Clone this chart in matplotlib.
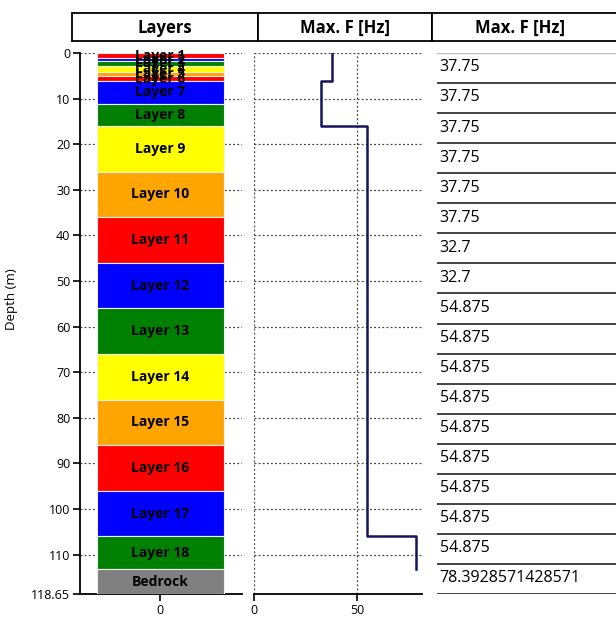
import numpy as np
import matplotlib
matplotlib.use("Agg")
import matplotlib.pyplot as plt
from matplotlib.patches import Rectangle

# ---- data ----
layer_names = ["Layer 1", "Layer 2", "Layer 3", "Layer 4", "Layer 5", "Layer 6",
               "Layer 7", "Layer 8", "Layer 9", "Layer 10", "Layer 11", "Layer 12",
               "Layer 13", "Layer 14", "Layer 15", "Layer 16", "Layer 17", "Layer 18",
               "Bedrock"]
thickness = [1.1, 0.7, 1.0, 1.4, 0.9, 1.0,
             5.1, 4.8, 10.0, 10.0, 10.0, 10.0,
             10.0, 10.0, 10.0, 10.0, 10.0, 7.2,
             5.45]
max_f = [37.75, 37.75, 37.75, 37.75, 37.75, 37.75,
         32.7, 32.7, 54.875, 54.875, 54.875, 54.875,
         54.875, 54.875, 54.875, 54.875, 54.875, 78.3928571428571]
cycle_colors = ["#ff0000", "#0000ff", "#008000", "#ffff00", "#ffa500"]
bedrock_color = "#808080"
depth_ticks = [0, 10, 20, 30, 40, 50, 60, 70, 80, 90, 100, 110, 118.65]
depth_tick_labels = ["0", "10", "20", "30", "40", "50", "60", "70", "80", "90",
                     "100", "110", "118.65"]
freq_ticks = [0, 50]
headers = ["Layers", "Max. F [Hz]", "Max. F [Hz]"]

bounds = np.concatenate([[0.0], np.cumsum(thickness)])
total_depth = bounds[-1]

W, H = 616, 621
fig = plt.figure(figsize=(W / 100, H / 100), dpi=100)
fig.patch.set_facecolor("white")


def fx(px):
    return px / W


def fy(py):
    return 1 - py / H


FONT = "Open Sans"
grid_kw = dict(color="#444444", linestyle=(0, (1.5, 1.8)), linewidth=0.9)

# ---- header row ----
hdr = fig.add_axes([0, 0, 1, 1], zorder=0)
hdr.set_axis_off()
hdr.set_xlim(0, W)
hdr.set_ylim(H, 0)
hdr_top, hdr_bot = 13, 41
cells = [(72, 258), (258, 432), (432, 640)]
for (x0, x1), txt in zip(cells, headers):
    hdr.add_patch(Rectangle((x0, hdr_top), x1 - x0, hdr_bot - hdr_top,
                            facecolor="white", edgecolor="black", linewidth=1.3,
                            clip_on=False))
    cx = (x0 + x1) / 2 if x1 < 616 else (x0 + 616) / 2 - 4
    hdr.text(cx, (hdr_top + hdr_bot) / 2 + 1, txt, ha="center", va="center",
             fontsize=12, fontweight="bold", family=FONT)

# ---- layer column ----
ax1 = fig.add_axes([fx(80), fy(594), fx(242) - fx(80), fy(53) - fy(594)], zorder=2)
ax1.set_facecolor("none")
for i, name in enumerate(layer_names):
    top, bot = bounds[i], bounds[i + 1]
    col = bedrock_color if name == "Bedrock" else cycle_colors[i % 5]
    ax1.bar(0, bot - top, bottom=top, width=1.0, color=col,
            edgecolor="#eeeeee", linewidth=0.8, zorder=3)
    ax1.text(0, (top + bot) / 2, name, ha="center", va="center", fontsize=10,
             fontweight="bold", family=FONT, color="black", zorder=4)
ax1.set_xlim(-0.63, 0.645)
ax1.set_ylim(total_depth, 0)
ax1.set_yticks(depth_ticks)
ax1.set_yticklabels(depth_tick_labels)
ax1.set_xticks([0])
ax1.set_xticklabels(["0"])
ax1.grid(axis="y", zorder=1, **grid_kw)
ax1.set_axisbelow(True)
for s in ["top", "right"]:
    ax1.spines[s].set_visible(False)
for s in ["left", "bottom"]:
    ax1.spines[s].set_linewidth(1.3)
ax1.tick_params(axis="both", length=5, width=1.2, labelsize=9, pad=2)
for lbl in ax1.get_xticklabels() + ax1.get_yticklabels():
    lbl.set_family(FONT)
ax1.set_ylabel("Depth (m)", fontsize=9.5, family=FONT)
ax1.yaxis.set_label_coords(-0.385, 0.545)

# ---- maximum frequency profile ----
ax2 = fig.add_axes([fx(254), fy(594), fx(422) - fx(254), fy(53) - fy(594)], zorder=2)
ax2.set_facecolor("none")
prof_f, prof_d = [], []
for i, f in enumerate(max_f):
    prof_f += [f, f]
    prof_d += [bounds[i], bounds[i + 1]]
ax2.plot(prof_f, prof_d, color="#15155e", linewidth=1.8, zorder=3)
ax2.set_xlim(0, 81.5)
ax2.set_ylim(total_depth, 0)
ax2.set_yticks(depth_ticks[:-1])
ax2.set_yticklabels([])
ax2.set_xticks(freq_ticks)
ax2.set_xticklabels([str(t) for t in freq_ticks])
ax2.grid(True, zorder=1, **grid_kw)
for s in ["top", "right", "left"]:
    ax2.spines[s].set_visible(False)
ax2.spines["bottom"].set_linewidth(1.3)
ax2.tick_params(axis="y", length=0)
ax2.tick_params(axis="x", length=5, width=1.2, labelsize=9, pad=2)
for lbl in ax2.get_xticklabels():
    lbl.set_family(FONT)

# ---- value table ----
ax3 = fig.add_axes([fx(437), fy(594), 1 - fx(437), fy(53) - fy(594)], zorder=2)
ax3.set_axis_off()
n = len(max_f)
ax3.set_xlim(0, 1)
ax3.set_ylim(n, 0)
ax3.axhline(0, color="#bbbbbb", linewidth=1.0)
for r, v in enumerate(max_f):
    ax3.axhline(r + 1, color="#222222", linewidth=1.2)
    ax3.text(0.015, r + 0.48, f"{v:.15g}", ha="left", va="center",
             fontsize=11.5, family=FONT, color="black")

fig.savefig("out.png", dpi=100, facecolor="white")
